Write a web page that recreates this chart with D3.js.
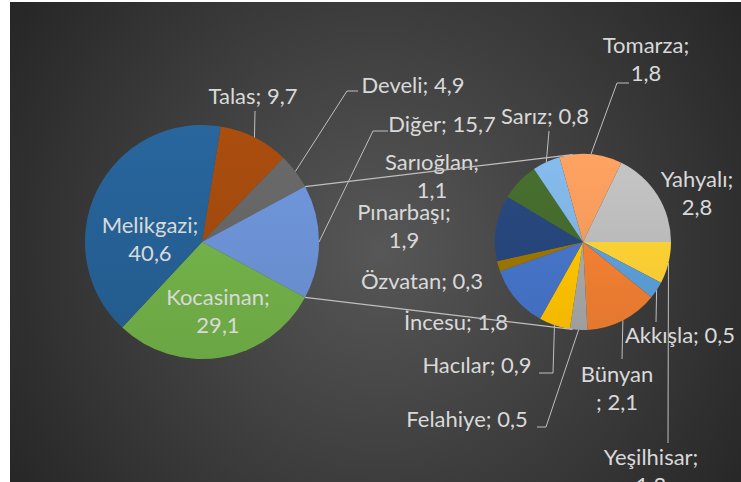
<!DOCTYPE html>
<html>
<head>
<meta charset="utf-8">
<script src="https://cdn.jsdelivr.net/npm/d3@7"></script>
<style>
  html, body { margin: 0; padding: 0; background: #ffffff; }
  svg { display: block; }
  text { font-family: Lato, "Open Sans", sans-serif; }
</style>
</head>
<body>
<svg id="chart" width="741" height="482"></svg>
<script>
// ---------- data ----------
const mainNames  = ["Talas", "Develi", "Diğer", "Kocasinan", "Melikgazi"];
const mainValues = [9.7, 4.9, 15.7, 29.1, 40.6];
const mainColors = ["#9E480E", "#636363", "#698ED0", "#70AD47", "#255E91"];

const subNames  = ["Yeşilhisar", "Akkışla", "Bünyan", "Felahiye", "Hacılar", "İncesu",
                   "Özvatan", "Pınarbaşı", "Sarıoğlan", "Sarız", "Tomarza", "Yahyalı"];
const subValues = [1.2, 0.5, 2.1, 0.5, 0.9, 1.8, 0.3, 1.9, 1.1, 0.8, 1.8, 2.8];
const subColors = ["#FFCD33", "#5B9BD5", "#ED7D31", "#A5A5A5", "#FFC000", "#4472C4",
                   "#997300", "#264478", "#43682B", "#7CAFDD", "#F1975A", "#B7B7B7"];

// ---------- layout ----------
const W = 741, H = 482;
const mainPie = { cx: 202, cy: 242, r: 117 };
const subPie  = { cx: 583, cy: 242, r: 88 };
const otherName = "Diğer";

// label placement: centre x, first baseline y, line break, leader elbow points
const labelLayout = {
  "Talas":      { x: 253, y: 104, leader: [[255, 111]] },
  "Develi":     { x: 413, y: 93,  leader: [[347, 91], [358, 91]] },
  "Diğer":      { x: 442, y: 132, leader: [[373, 131], [388, 131]] },
  "Kocasinan":  { x: 218, y: 305, brk: "after" },
  "Melikgazi":  { x: 150, y: 233, brk: "after" },
  "Yeşilhisar": { x: 651, y: 465, brk: "after", leader: [[668, 443]] },
  "Akkışla":    { x: 680, y: 343, leader: [[656, 322]] },
  "Bünyan":     { x: 617, y: 382, brk: "before", leader: [[622, 359]] },
  "Felahiye":   { x: 467, y: 427, leader: [[546, 427], [537, 427]] },
  "Hacılar":    { x: 477, y: 373, leader: [[553, 373], [539, 373]] },
  "İncesu":     { x: 456, y: 330 },
  "Özvatan":    { x: 422, y: 289 },
  "Pınarbaşı":  { x: 404, y: 220, brk: "after" },
  "Sarıoğlan":  { x: 432, y: 170, brk: "after" },
  "Sarız":      { x: 545, y: 124, leader: [[549, 131]] },
  "Tomarza":    { x: 646, y: 53,  brk: "after", leader: [[617, 83], [629, 83]] },
  "Yahyalı":    { x: 697, y: 187, brk: "after" }
};
const lineGap = 28;
const textColor = "#D9D9D9";
const lineColor = "#BFBFBF";

// ---------- drawing ----------
const svg = d3.select("#chart");
const defs = svg.append("defs");

const bg = defs.append("radialGradient").attr("id", "bg")
  .attr("gradientUnits", "userSpaceOnUse")
  .attr("cx", 380).attr("cy", 250).attr("r", 470);
bg.append("stop").attr("offset", 0).attr("stop-color", "#575757");
bg.append("stop").attr("offset", 1).attr("stop-color", "#232323");

svg.append("rect").attr("x", 10).attr("y", 2).attr("width", W - 10).attr("height", H - 2)
  .attr("fill", "url(#bg)");

const fmt = v => d3.format(".1f")(v).replace(".", ",");
const TAU = Math.PI * 2;

function drawPie(names, values, colors, geo, startAngle, key) {
  const pie = d3.pie().sort(null).value(d => d.v)
    .startAngle(startAngle).endAngle(startAngle + TAU);
  const data = pie(names.map((n, i) => ({ n, v: values[i], c: colors[i] })));
  const arc = d3.arc().innerRadius(0).outerRadius(geo.r);
  const g = svg.append("g").attr("transform", `translate(${geo.cx},${geo.cy})`);
  data.forEach((d, i) => {
    const id = `${key}g${i}`;
    const gr = defs.append("linearGradient").attr("id", id)
      .attr("gradientUnits", "userSpaceOnUse")
      .attr("x1", 0).attr("y1", -geo.r).attr("x2", 0).attr("y2", geo.r);
    gr.append("stop").attr("offset", 0).attr("stop-color", d3.color(d.data.c).brighter(0.22).formatHex());
    gr.append("stop").attr("offset", 1).attr("stop-color", d3.color(d.data.c).darker(0.12).formatHex());
  });
  g.selectAll("path").data(data).join("path")
    .attr("d", arc)
    .attr("fill", (d, i) => `url(#${key}g${i})`);
  return data;
}

// main pie: "other" slice centred at 3 o'clock
const oi = mainNames.indexOf(otherName);
const mainTotal = d3.sum(mainValues);
const before = d3.sum(mainValues.slice(0, oi)) + mainValues[oi] / 2;
const mainStart = Math.PI / 2 - before / mainTotal * TAU;
const mainData = drawPie(mainNames, mainValues, mainColors, mainPie, mainStart, "m");
const subData  = drawPie(subNames, subValues, subColors, subPie, Math.PI / 2, "s");

// series lines: tangent from other slice edges to the second pie
const otherSlice = mainData[oi];
function edgePt(geo, a) { return [geo.cx + geo.r * Math.sin(a), geo.cy - geo.r * Math.cos(a)]; }
function tangent(p, geo, sign) {
  const dx = p[0] - geo.cx, dy = p[1] - geo.cy;
  const d = Math.hypot(dx, dy);
  const base = Math.atan2(dy, dx);
  const off = Math.acos(geo.r / d);
  const a = base + sign * off;
  return [geo.cx + geo.r * Math.cos(a), geo.cy + geo.r * Math.sin(a)];
}
const pTop = edgePt(mainPie, otherSlice.startAngle);
const pBot = edgePt(mainPie, otherSlice.endAngle);

// labels
const labels = svg.append("g").attr("fill", textColor).attr("font-size", 22);
function drawLabels(data, geo) {
  data.forEach(d => {
    const name = d.data.n;
    const L = labelLayout[name];
    if (!L) return;
    let lines;
    if (L.brk === "after") lines = [name + ";", fmt(d.data.v)];
    else if (L.brk === "before") lines = [name, "; " + fmt(d.data.v)];
    else lines = [name + "; " + fmt(d.data.v)];
    const t = labels.append("text").attr("text-anchor", "middle");
    lines.forEach((ln, k) => t.append("tspan").attr("x", L.x).attr("y", L.y + k * lineGap).text(ln));
    if (L.leader) {
      const mid = (d.startAngle + d.endAngle) / 2;
      const pts = [edgePt(geo, mid)].concat(L.leader);
      svg.append("path").attr("d", d3.line()(pts))
        .attr("fill", "none").attr("stroke", lineColor).attr("stroke-width", 1);
    }
  });
}
drawLabels(mainData.filter((d, i) => i !== oi), mainPie);
drawLabels([mainData[oi]], mainPie);
drawLabels(subData, subPie);

const series = svg.append("g").attr("stroke", lineColor).attr("stroke-width", 1.2).attr("fill", "none");
[[pTop, tangent(pTop, subPie, 1)], [pBot, tangent(pBot, subPie, -1)]].forEach(seg => {
  series.append("path").attr("d", d3.line()(seg));
});
</script>
</body>
</html>
